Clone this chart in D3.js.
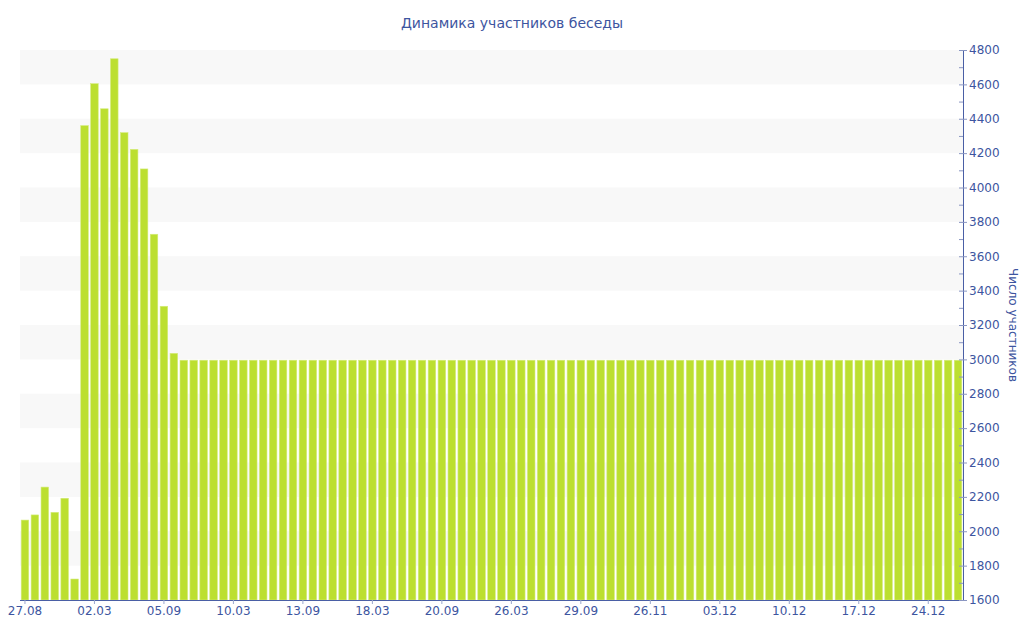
<!DOCTYPE html>
<html>
<head>
<meta charset="utf-8">
<script src="https://cdn.jsdelivr.net/npm/d3@7"></script>
<style>
  body { margin: 0; background: #fff; }
  text { font-family: "DejaVu Sans", Verdana, sans-serif; fill: #3d55a0; }
</style>
</head>
<body>
<script>
// chart text
const CHART_TITLE = 'Динамика участников беседы';
const Y_LABEL = 'Число участников';

// members per day
const memberCounts = [
    2065, 2095, 2257, 2110, 2192, 1722, 4360, 4604, 4458, 4749,
    4319, 4222, 4108, 3728, 3309, 3035, 2995, 2995, 2995, 2995,
    2995, 2995, 2995, 2995, 2995, 2995, 2995, 2995, 2995, 2995,
    2995, 2995, 2995, 2995, 2995, 2995, 2995, 2995, 2995, 2995,
    2995, 2995, 2995, 2995, 2995, 2995, 2995, 2995, 2995, 2995,
    2995, 2995, 2995, 2995, 2995, 2995, 2995, 2995, 2995, 2995,
    2995, 2995, 2995, 2995, 2995, 2995, 2995, 2995, 2995, 2995,
    2995, 2995, 2995, 2995, 2995, 2995, 2995, 2995, 2995, 2995,
    2995, 2995, 2995, 2995, 2995, 2995, 2995, 2995, 2995, 2995,
    2995, 2995, 2995, 2995, 2995
];

// labels shown under every 7th bar
const tickLabels = ['27.08', '02.03', '05.09', '10.03', '13.09', '18.03', '20.09',
                    '26.03', '29.09', '26.11', '03.12', '10.12', '17.12', '24.12'];
const TICK_EVERY = 7;

const yDomain = [1600, 4800];
const yTickStep = 200;

const SCREEN = { width: 1024, height: 640, left: 20, right: 963, top: 50, bottom: 600 };

const svg = d3.select('body').append('svg')
    .attr('width', SCREEN.width)
    .attr('height', SCREEN.height);

const x = d3.scaleBand()
    .domain(d3.range(memberCounts.length))
    .range([SCREEN.left, SCREEN.right])
    .paddingInner(0.24)
    .paddingOuter(0.12);

const y = d3.scaleLinear()
    .domain(yDomain)
    .range([SCREEN.bottom, SCREEN.top]);

const yTicks = d3.range(yDomain[0], yDomain[1] + 1, yTickStep);

// alternating grey bands
svg.append('g')
    .selectAll('rect')
    .data(yTicks.slice(0, -1).filter((d, i) => i % 2 === 1))
    .join('rect')
    .attr('x', SCREEN.left)
    .attr('width', SCREEN.right - SCREEN.left)
    .attr('y', d => y(d + yTickStep))
    .attr('height', d => y(d) - y(d + yTickStep))
    .attr('fill', '#f8f8f8');

// bars
svg.append('g')
    .selectAll('rect')
    .data(memberCounts)
    .join('rect')
    .attr('x', (d, i) => x(i))
    .attr('width', x.bandwidth())
    .attr('y', d => y(d))
    .attr('height', d => y(yDomain[0]) - y(d))
    .attr('fill', '#bcdf30')
    .attr('stroke', '#d4ec7a')
    .attr('stroke-width', 0.6);

// x axis
const xTickIdx = d3.range(0, memberCounts.length, TICK_EVERY);
const xAxis = d3.axisBottom(x)
    .tickValues(xTickIdx)
    .tickFormat((d, i) => tickLabels[i])
    .tickSize(4)
    .tickSizeOuter(0)
    .tickPadding(2);

const xAxisGroup = svg.append('g')
    .attr('transform', `translate(0,${SCREEN.bottom})`)
    .call(xAxis);
xAxisGroup.select('.domain').attr('stroke', '#4a5fa5').attr('d', `M${SCREEN.left},0.5H${SCREEN.right}`);
xAxisGroup.selectAll('.tick line').attr('stroke', '#9aa6cc');
xAxisGroup.selectAll('.tick text').attr('font-size', 12).style('font-family', '"DejaVu Sans", sans-serif');

// y axis on the right, minor ticks every 100
const minorAxis = d3.axisRight(y)
    .tickValues(d3.range(yDomain[0] + 100, yDomain[1], yTickStep))
    .tickFormat('')
    .tickSize(-4)
    .tickSizeOuter(0);

const yAxis = d3.axisRight(y)
    .tickValues(yTicks)
    .tickFormat(d3.format('d'))
    .tickSize(4)
    .tickSizeOuter(0)
    .tickPadding(2);

const yMinorGroup = svg.append('g')
    .attr('transform', `translate(${SCREEN.right},0)`)
    .call(minorAxis);
yMinorGroup.select('.domain').remove();
yMinorGroup.selectAll('.tick line').attr('stroke', '#8a96c2');

const yAxisGroup = svg.append('g')
    .attr('transform', `translate(${SCREEN.right},0)`)
    .call(yAxis);
yAxisGroup.select('.domain').attr('stroke', '#4a5fa5');
yAxisGroup.selectAll('.tick line').attr('stroke', '#8a96c2').attr('x1', -4);
yAxisGroup.selectAll('.tick text').attr('font-size', 12).style('font-family', '"DejaVu Sans", sans-serif');

// title
svg.append('text')
    .attr('x', SCREEN.width / 2)
    .attr('y', 28)
    .attr('text-anchor', 'middle')
    .attr('font-size', 14)
    .text(CHART_TITLE);

// y axis label
svg.append('text')
    .attr('transform', `translate(1009,${(SCREEN.top + SCREEN.bottom) / 2}) rotate(90)`)
    .attr('text-anchor', 'middle')
    .attr('font-size', 12)
    .text(Y_LABEL);
</script>
</body>
</html>
